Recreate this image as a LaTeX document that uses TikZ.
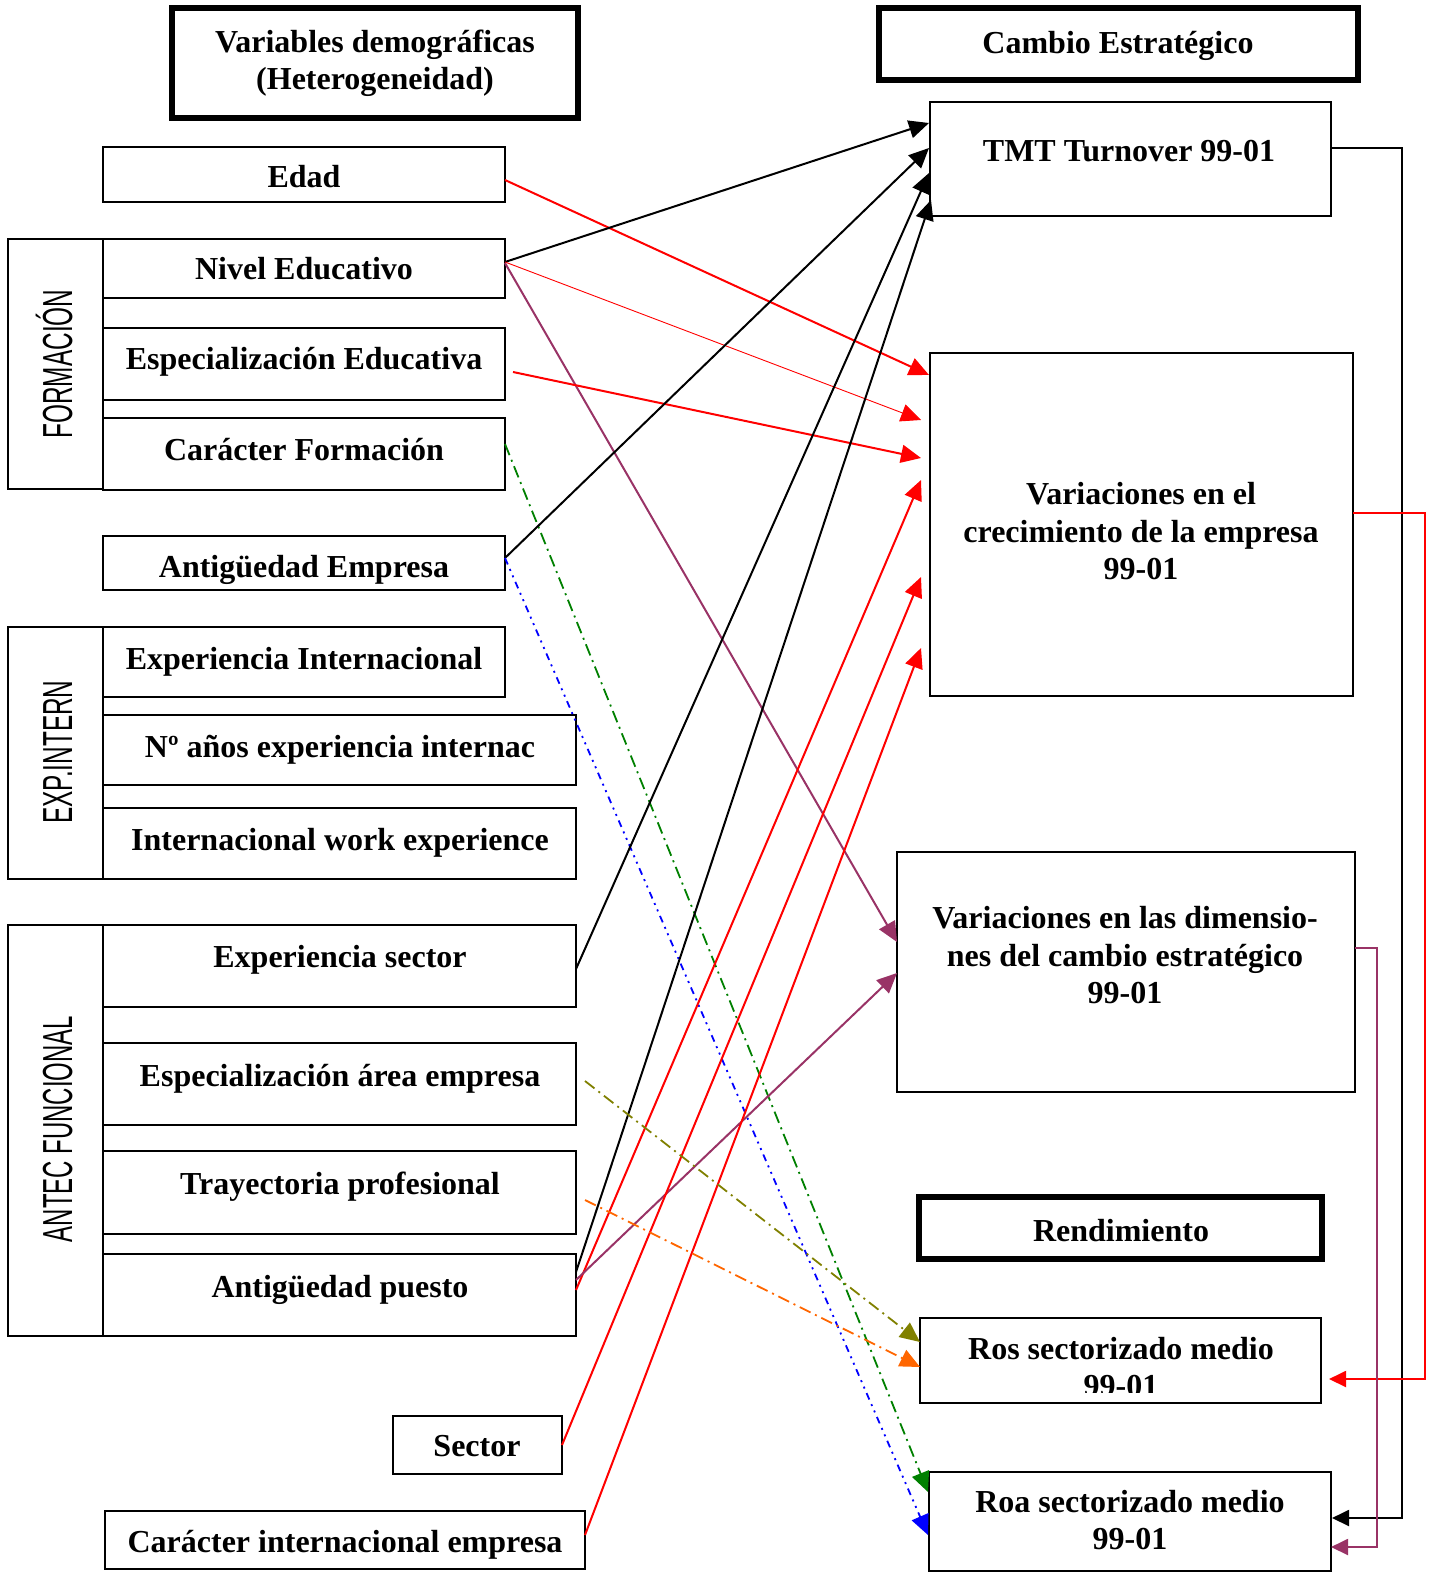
\documentclass[tikz,border=0pt]{standalone}
\usepackage{fontspec}
\usepackage{graphicx}
\setmainfont{Liberation Serif}
\newfontfamily\condsans{Liberation Sans}
\usetikzlibrary{arrows.meta,calc}

\definecolor{plum}{RGB}{153,51,102}
\definecolor{olivec}{RGB}{128,128,0}
\definecolor{orangec}{RGB}{255,102,0}
\definecolor{greenc}{RGB}{0,128,0}

% a rectangle node given by its corners (in pixel units)
\newcommand\boxat[6]{%
  \node[#6, minimum width={(#4-#2)*0.5pt}, minimum height={(#5-#3)*0.5pt}]
    (#1) at ({(#2+#4)/2},{(#3+#5)/2}) {};}

\tikzset{
  box/.style={draw=black, line width=1pt, rectangle, inner sep=0pt, outer sep=0pt},
  heavybox/.style={box, line width=2.6pt},
  lbl/.style={anchor=base, inner sep=0pt, font=\fontsize{16}{18.5}\selectfont\bfseries},
  side/.style={anchor=base, rotate=90, inner sep=0pt, font=\fontsize{21}{21}\selectfont\condsans},
  tip/.style={-{Triangle[length=10pt,width=9pt]}},
  link/.style={tip, line width=1pt},
  thinlink/.style={tip, line width=0.45pt},
  dashdot/.style={tip, line width=0.9pt, dash pattern=on 6pt off 2.5pt on 1pt off 2.5pt},
  dashdotdot/.style={tip, line width=0.9pt, dash pattern=on 3.5pt off 2.5pt on 1pt off 2.5pt on 1pt off 2.5pt},
  back/.style={-{Triangle[length=8.5pt,width=8pt]}, line width=1pt},
}

\begin{document}
\begin{tikzpicture}[x=0.5pt,y=-0.5pt]
\useasboundingbox (0,0) rectangle (1431,1572);

% ---------- left column: demographic variables ----------
\boxat{demo}{172}{8}{578}{118}{heavybox}
\node[lbl] (demo-a) at (375,53) {Variables demográficas};
\node[lbl] (demo-b) at (375,90) {(Heterogeneidad)};

\boxat{edad}{103}{147}{505}{202}{box}
\node[lbl] (edad-t) at (304,188) {Edad};

\boxat{formacion}{8}{239}{103}{489}{box}
\node[side] (formacion-t) at (72,364) {\scalebox{0.58}[1]{FORMACIÓN}};
\boxat{nivel}{103}{239}{505}{298}{box}
\node[lbl] (nivel-t) at (304,280) {Nivel Educativo};
\boxat{espedu}{103}{328}{505}{400}{box}
\node[lbl] (espedu-t) at (304,370) {Especialización Educativa};
\boxat{carfor}{103}{418}{505}{490}{box}
\node[lbl] (carfor-t) at (304,460) {Carácter Formación};

\boxat{antemp}{103}{536}{505}{590}{box}
\node[lbl] (antemp-t) at (304,577) {Antigüedad Empresa};

\boxat{expintern}{8}{627}{103}{879}{box}
\node[side] (expintern-t) at (72,752) {\scalebox{0.58}[1]{EXP.INTERN}};
\boxat{expint}{103}{627}{505}{697}{box}
\node[lbl] (expint-t) at (304,669) {Experiencia Internacional};
\boxat{anos}{103}{715}{576}{785}{box}
\node[lbl] (anos-t) at (340,757) {Nº años experiencia internac};
\boxat{work}{103}{808}{576}{879}{box}
\node[lbl] (work-t) at (340,850) {Internacional work experience};

\boxat{antec}{8}{925}{103}{1336}{box}
\node[side] (antec-t) at (72,1129) {\scalebox{0.57}[1]{ANTEC FUNCIONAL}};
\boxat{expsec}{103}{925}{576}{1007}{box}
\node[lbl] (expsec-t) at (340,967) {Experiencia sector};
\boxat{espar}{103}{1043}{576}{1125}{box}
\node[lbl] (espar-t) at (340,1086) {Especialización área empresa};
\boxat{tray}{103}{1151}{576}{1234}{box}
\node[lbl] (tray-t) at (340,1194) {Trayectoria profesional};
\boxat{antpue}{103}{1254}{576}{1336}{box}
\node[lbl] (antpue-t) at (340,1297) {Antigüedad puesto};

\boxat{sector}{393}{1416}{562}{1474}{box}
\node[lbl] (sector-t) at (477,1456) {Sector};
\boxat{carint}{105}{1511}{585}{1569}{box}
\node[lbl] (carint-t) at (345,1552) {Carácter internacional empresa};

% ---------- right column: strategic change and performance ----------
\boxat{cambio}{879}{8}{1358}{80}{heavybox}
\node[lbl] (cambio-t) at (1118,54) {Cambio Estratégico};

\boxat{tmt}{930}{102}{1331}{216}{box}
\node[lbl] (tmt-t) at (1129,162) {TMT Turnover 99-01};

\boxat{crec}{930}{353}{1353}{696}{box}
\node[lbl] (crec-a) at (1141,504) {Variaciones en el};
\node[lbl] (crec-b) at (1141,542) {crecimiento de la empresa};
\node[lbl] (crec-c) at (1141,579) {99-01};

\boxat{dim}{897}{852}{1355}{1092}{box}
\node[lbl] (dim-a) at (1125,928) {Variaciones en las dimensio-};
\node[lbl] (dim-b) at (1125,966) {nes del cambio estratégico};
\node[lbl] (dim-c) at (1125,1003) {99-01};

\boxat{rend}{919}{1197}{1322}{1259}{heavybox}
\node[lbl] (rend-t) at (1121,1241) {Rendimiento};

\boxat{ros}{920}{1318}{1321}{1403}{box}
\begin{scope}
  \clip (922,1320) rectangle (1319,1392);
  \node[lbl] (ros-a) at (1121,1359) {Ros sectorizado medio};
  \node[lbl] (ros-b) at (1121,1396) {99-01};
\end{scope}

\boxat{roa}{929}{1472}{1331}{1571}{box}
\node[lbl] (roa-a) at (1130,1512) {Roa sectorizado medio};
\node[lbl] (roa-b) at (1130,1549) {99-01};

% ---------- connectors ----------
\draw[link, red] ($(edad.north east)+(0,33)$) -- ($(crec.north west)+(-1,22)$);

\draw[link, black] ($(nivel.north east)+(0,23)$) -- ($(tmt.north west)+(-1,21)$);
\draw[thinlink, red] ($(nivel.north east)+(0,23)$) -- ($(crec.north west)+(-9,67)$);
\draw[link, plum] ($(nivel.north east)+(0,24)$) -- ($(dim.north west)+(0,90)$);

\draw[link, red] ($(espedu.north east)+(8,44)$) -- ($(crec.north west)+(-9,105)$);

\draw[dashdot, greenc] ($(carfor.north east)+(0,26)$) -- ($(roa.north west)+(-1,20)$);

\draw[link, black] ($(antemp.north east)+(0,22)$) -- ($(tmt.north west)+(-1,46)$);
\draw[dashdotdot, blue] ($(antemp.north east)+(0,22)$) -- ($(roa.north west)+(-1,63)$);

\draw[link, black] ($(expsec.north east)+(0,44)$) -- ($(tmt.north west)+(-1,71)$);

\draw[link, black] ($(antpue.north east)+(0,18)$) -- ($(tmt.north west)+(1,98)$);
\draw[link, red] ($(antpue.north east)+(0,36)$) -- ($(crec.north west)+(-9,127)$);
\draw[link, plum] ($(antpue.north east)+(0,26)$) -- ($(dim.north west)+(0,121)$);

\draw[link, red] ($(sector.north east)+(0,29)$) -- ($(crec.north west)+(-9,224)$);
\draw[link, red] ($(carint.north east)+(0,24)$) -- ($(crec.north west)+(-9,295)$);

\draw[dashdot, olivec] ($(espar.north east)+(9,38)$) -- ($(ros.north west)+(0,24)$);
\draw[dashdot, orangec] ($(tray.north east)+(9,49)$) -- ($(ros.north west)+(0,49)$);

% ---------- feedback lines on the right ----------
\draw[back, black] ($(tmt.north east)+(0,46)$) -| ($(roa.north east)+(71,46)$) -- ($(roa.north east)+(1,46)$);
\draw[back, red] ($(crec.north east)+(0,160)$) -| ($(ros.north east)+(104,61)$) -- ($(ros.north east)+(8,61)$);
\draw[back, plum] ($(dim.north east)+(0,96)$) -| ($(roa.north east)+(46,75)$) -- ($(roa.north east)+(0,75)$);

\end{tikzpicture}
\end{document}
